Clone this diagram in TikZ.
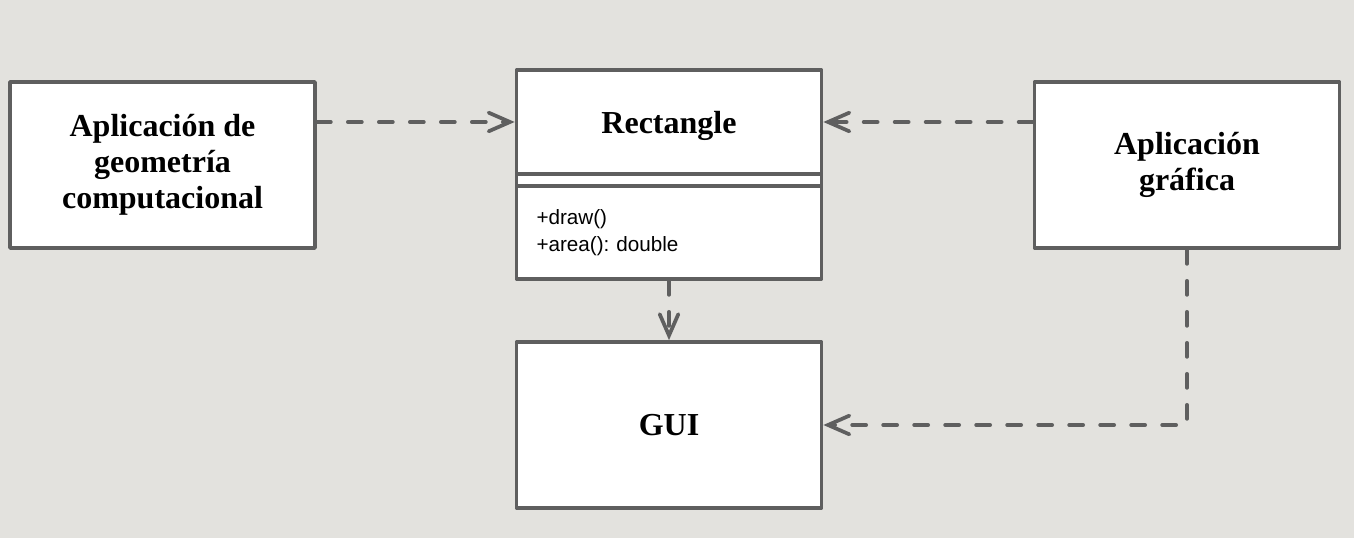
\documentclass[tikz,border=0pt]{standalone}
\usepackage{fontspec}
\setmainfont{Liberation Serif}
\setsansfont{Liberation Sans}
\usetikzlibrary{arrows.meta}
\definecolor{umlline}{RGB}{95,95,95}
\definecolor{umlback}{RGB}{227,226,222}
\frenchspacing
\tikzset{
  classbox/.style={draw=umlline, line width=2.8pt, line join=round, fill=white,
    minimum width=228.75pt, inner sep=0pt, align=center,
    font=\fontsize{24}{27}\selectfont\bfseries},
  depend/.style={draw=umlline, line width=2.8pt, line cap=round,
    dash pattern=on 10.5pt off 12.75pt,
    -{Straight Barb[length=16pt,width=14pt,line cap=round]}},
}

\begin{document}
\begin{tikzpicture}[x=0.75pt,y=0.75pt,yscale=-1,xscale=1]
%background
\fill [umlback] (0,0) rectangle (1354,538);
\useasboundingbox (0,0) rectangle (1354,538);

%Class: Aplicacion de geometria
\node (geom) [classbox, minimum height=124.5pt] at (162.5,165) {Aplicación de\\geometría\\computacional};
%Class: Aplicacion grafica
\node (graf) [classbox, minimum height=124.5pt] at (1187,165) {Aplicación\\gráfica};
%Class: Rectangle (name, attributes, operations)
\node (rect) [classbox, minimum height=78pt, text depth=0pt] at (669,122) {Rectangle};
\node (rectattr) [classbox, minimum height=9pt] at (669,180) {};
\node (rectops) [classbox, minimum height=69.75pt, align=left, text width=198.75pt,
  font=\sffamily\fontsize{15.5}{20.5}\selectfont] at (669,232.5) {+draw()\\+area(): double};
%Class: GUI
\node (gui) [classbox, minimum height=124.5pt] at (669,425) {GUI};

%Dependencies
\draw [depend] (geom.east |- rect.west) -- (rect.west);
\draw [depend] (graf.west |- rect.east) -- (rect.east);
\draw [depend] (rectops.south) -- (gui.north);
\draw [depend] (graf.south) |- (gui.east);

\end{tikzpicture}
\end{document}
